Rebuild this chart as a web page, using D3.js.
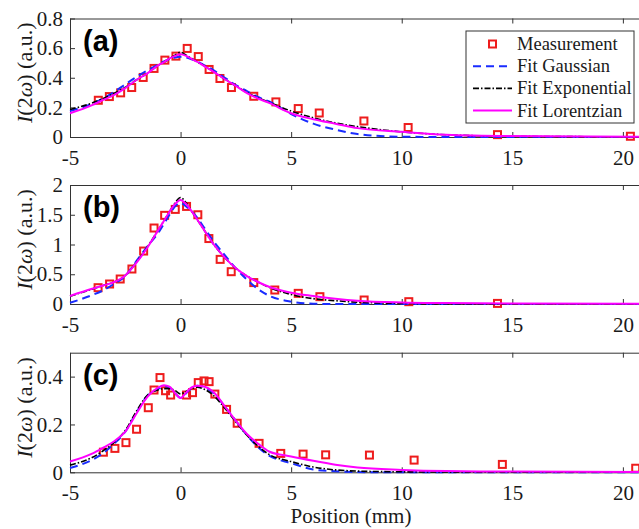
<!DOCTYPE html>
<html>
<head>
<meta charset="utf-8">
<script src="https://cdn.jsdelivr.net/npm/d3@7"></script>
<style>
  body { margin: 0; background: #fff; }
  svg { display: block; }
  .ax text { font-family: "Liberation Serif", "Times New Roman", serif; font-size: 21px; fill: #1a1a1a; }
  .ax path, .ax line { stroke: #333; stroke-width: 1; }
</style>
</head>
<body>
<svg id="main"></svg>
<script>
// x grid the fitted curves were read on
var fitX = [-5, -4, -3.5, -3, -2.5, -2, -1.5, -1, -0.75, -0.5, -0.25, 0, 0.25, 0.5, 0.75, 1, 1.5, 2, 2.5, 3, 3.5, 4, 5, 6, 7, 8, 10, 12, 15, 21];

// panel (a)
var measXA = [-3.72, -3.22, -2.71, -2.21, -1.69, -1.20, -0.71, -0.21, 0.30, 0.80, 1.29, 1.78, 2.30, 3.31, 4.31, 5.32, 6.27, 8.29, 10.29, 14.33, 20.34];
var measYA = [0.248, 0.273, 0.298, 0.334, 0.402, 0.463, 0.519, 0.546, 0.598, 0.543, 0.456, 0.395, 0.334, 0.275, 0.237, 0.192, 0.162, 0.108, 0.064, 0.016, 0.005];
var gaussA = [0.175, 0.225, 0.26, 0.305, 0.355, 0.405, 0.45, 0.49, 0.51, 0.525, 0.537, 0.541, 0.537, 0.525, 0.51, 0.49, 0.45, 0.40, 0.35, 0.31, 0.27, 0.24, 0.155, 0.09, 0.05, 0.02, 0.002, 0, 0, 0];
var expoA  = [0.185, 0.23, 0.26, 0.295, 0.335, 0.385, 0.43, 0.485, 0.505, 0.53, 0.553, 0.572, 0.553, 0.53, 0.508, 0.487, 0.44, 0.39, 0.345, 0.30, 0.265, 0.235, 0.175, 0.13, 0.095, 0.07, 0.035, 0.015, 0.005, 0.001];
var lorA   = [0.16, 0.215, 0.25, 0.285, 0.33, 0.385, 0.43, 0.485, 0.505, 0.53, 0.548, 0.558, 0.548, 0.528, 0.508, 0.485, 0.44, 0.39, 0.345, 0.297, 0.26, 0.23, 0.16, 0.12, 0.09, 0.06, 0.035, 0.015, 0.006, 0.002];

// panel (b)
var measXB = [-3.73, -3.21, -2.73, -2.20, -1.67, -1.20, -0.72, -0.24, 0.27, 0.78, 1.28, 1.79, 2.29, 3.31, 4.26, 5.32, 6.30, 8.30, 10.32, 14.33];
var measYB = [0.274, 0.336, 0.42, 0.588, 0.89, 1.277, 1.49, 1.59, 1.64, 1.50, 1.10, 0.75, 0.543, 0.36, 0.235, 0.179, 0.123, 0.067, 0.039, 0.01];
var gaussB = [0.02, 0.15, 0.23, 0.34, 0.47, 0.72, 0.97, 1.2, 1.35, 1.5, 1.64, 1.70, 1.64, 1.56, 1.45, 1.32, 1.05, 0.82, 0.6, 0.41, 0.25, 0.14, 0.04, 0.005, 0, 0, 0, 0, 0, 0];
var expoB  = [0.13, 0.25, 0.31, 0.37, 0.48, 0.70, 0.96, 1.25, 1.4, 1.55, 1.70, 1.79, 1.70, 1.56, 1.42, 1.28, 1.0, 0.78, 0.6, 0.47, 0.37, 0.28, 0.16, 0.09, 0.055, 0.03, 0.01, 0.004, 0.001, 0];
var lorB   = [0.135, 0.255, 0.31, 0.37, 0.48, 0.69, 0.95, 1.25, 1.4, 1.55, 1.68, 1.75, 1.68, 1.56, 1.42, 1.28, 1.0, 0.78, 0.6, 0.47, 0.37, 0.29, 0.19, 0.135, 0.09, 0.055, 0.025, 0.015, 0.008, 0.004];

// panel (c)
var measXC = [-3.49, -2.97, -2.47, -1.99, -1.46, -1.20, -0.93, -0.68, -0.45, 0.27, 0.54, 0.80, 1.06, 1.29, 1.55, 2.08, 2.56, 3.55, 4.53, 5.54, 6.56, 8.54, 10.56, 14.55, 20.58];
var measYC = [0.084, 0.100, 0.124, 0.180, 0.270, 0.344, 0.396, 0.341, 0.323, 0.323, 0.333, 0.375, 0.382, 0.379, 0.327, 0.263, 0.205, 0.121, 0.079, 0.076, 0.073, 0.072, 0.051, 0.033, 0.017];
var gaussC = [0.018, 0.052, 0.08, 0.12, 0.17, 0.25, 0.32, 0.35, 0.36, 0.355, 0.33, 0.311, 0.33, 0.352, 0.362, 0.358, 0.33, 0.275, 0.215, 0.155, 0.105, 0.07, 0.038, 0.012, 0.004, 0.001, 0, 0, 0, 0];
var expoC  = [0.03, 0.062, 0.09, 0.125, 0.175, 0.255, 0.322, 0.345, 0.35, 0.35, 0.342, 0.328, 0.338, 0.35, 0.356, 0.35, 0.32, 0.268, 0.21, 0.155, 0.11, 0.075, 0.045, 0.022, 0.01, 0.005, 0.002, 0.001, 0, 0];
var lorC   = [0.045, 0.078, 0.103, 0.13, 0.17, 0.245, 0.315, 0.355, 0.364, 0.358, 0.331, 0.311, 0.333, 0.355, 0.362, 0.36, 0.335, 0.276, 0.215, 0.16, 0.12, 0.087, 0.066, 0.048, 0.032, 0.02, 0.01, 0.005, 0.003, 0.001];

var xTicks = [-5, 0, 5, 10, 15, 20];
var yTicksA = [0, 0.2, 0.4, 0.6, 0.8];
var yTicksB = [0, 0.5, 1, 1.5, 2];
var yTicksC = [0, 0.2, 0.4];
var legendNames = ["Measurement", "Fit Gaussian", "Fit Exponential", "Fit Lorentzian"];

var chart = { width: 639, height: 529, left: 70, right: 645 };

var panels = [
  { tag: "(a)", top: 18.5, bottom: 137, ymax: 0.8, yTicks: yTicksA, mx: measXA, my: measYA, g: gaussA, e: expoA, l: lorA },
  { tag: "(b)", top: 185, bottom: 304, ymax: 2, yTicks: yTicksB, mx: measXB, my: measYB, g: gaussB, e: expoB, l: lorB },
  { tag: "(c)", top: 352.7, bottom: 472.3, ymax: 0.5, yTicks: yTicksC, mx: measXC, my: measYC, g: gaussC, e: expoC, l: lorC }
];

var styles = {
  g: { color: "#1a2cff", width: 2, dash: "8,5" },
  e: { color: "#000", width: 1.6, dash: "6,2,1.5,2" },
  l: { color: "#ff00ff", width: 2, dash: null }
};
var markColor = "#ee1c1c";
var plainNum = function(d) { return String(d); };   // hyphen minus, as in the figure

var svg = d3.select("#main")
  .attr("width", chart.width)
  .attr("height", chart.height);

var x = d3.scaleLinear().domain([-5, 21]).range([chart.left, chart.right]);

panels.forEach(function(p) {
  var y = d3.scaleLinear().domain([0, p.ymax]).range([p.bottom, p.top]);

  // box axes, ticks pointing in
  svg.append("g").attr("class", "ax")
    .attr("transform", "translate(0," + p.bottom + ")")
    .call(d3.axisBottom(x).tickValues(xTicks).tickSizeInner(-5).tickSizeOuter(0).tickPadding(13).tickFormat(plainNum));
  svg.append("g").attr("class", "ax")
    .attr("transform", "translate(0," + p.top + ")")
    .call(d3.axisTop(x).tickValues(xTicks).tickSizeInner(-5).tickSizeOuter(0).tickFormat(""));
  svg.append("g").attr("class", "ax")
    .attr("transform", "translate(" + chart.left + ",0)")
    .call(d3.axisLeft(y).tickValues(p.yTicks).tickSizeInner(-5).tickSizeOuter(0).tickPadding(7).tickFormat(plainNum));
  svg.append("g").attr("class", "ax")
    .attr("transform", "translate(" + chart.right + ",0)")
    .call(d3.axisRight(y).tickValues(p.yTicks).tickSizeInner(-5).tickSizeOuter(0).tickFormat(""));

  // measurements
  svg.append("g").selectAll("rect")
    .data(p.mx.map(function(v, i) { return [v, p.my[i]]; }))
    .join("rect")
    .attr("x", function(d) { return x(d[0]) - 3.5; })
    .attr("y", function(d) { return y(d[1]) - 3.5; })
    .attr("width", 7).attr("height", 7)
    .attr("fill", "none")
    .attr("stroke", markColor)
    .attr("stroke-width", 2);

  // fits
  var line = d3.line()
    .x(function(d) { return x(d[0]); })
    .y(function(d) { return y(d[1]); })
    .curve(d3.curveMonotoneX);
  ["g", "e", "l"].forEach(function(k) {
    var s = styles[k];
    svg.append("path")
      .datum(fitX.map(function(v, i) { return [v, p[k][i]]; }))
      .attr("d", line)
      .attr("fill", "none")
      .attr("stroke", s.color)
      .attr("stroke-width", s.width)
      .attr("stroke-dasharray", s.dash);
  });

  // panel tag
  svg.append("text")
    .attr("x", 83).attr("y", p.top + 32)
    .attr("font-family", "Liberation Sans, Arial, sans-serif")
    .attr("font-weight", "bold")
    .attr("font-size", 29)
    .text(p.tag);

  // y title
  var yt = svg.append("text")
    .attr("transform", "translate(32," + ((p.top + p.bottom) / 2 - 5) + ") rotate(-90)")
    .attr("text-anchor", "middle")
    .attr("font-family", "Liberation Serif, Times New Roman, serif")
    .attr("font-size", 22)
    .attr("fill", "#1a1a1a");
  yt.append("tspan").attr("font-style", "italic").text("I");
  yt.append("tspan").text("(2");
  yt.append("tspan").attr("font-style", "italic").text("ω");
  yt.append("tspan").text(") (a.u.)");
});

// x title
svg.append("text")
  .attr("x", 351).attr("y", 523)
  .attr("text-anchor", "middle")
  .attr("font-family", "Liberation Serif, Times New Roman, serif")
  .attr("font-size", 21)
  .attr("fill", "#1a1a1a")
  .text("Position (mm)");

// legend
var lg = svg.append("g").attr("transform", "translate(466,31)");
lg.append("rect")
  .attr("width", 168).attr("height", 92)
  .attr("fill", "#fff").attr("stroke", "#333").attr("stroke-width", 1);
var keys = [null, "g", "e", "l"];
legendNames.forEach(function(name, i) {
  var cy = 13 + i * 22.2;
  if (keys[i] === null) {
    lg.append("rect")
      .attr("x", 26.5 - 3.5).attr("y", cy - 3.5)
      .attr("width", 7).attr("height", 7)
      .attr("fill", "none").attr("stroke", markColor).attr("stroke-width", 2);
  } else {
    var s = styles[keys[i]];
    lg.append("line")
      .attr("x1", 7).attr("x2", 46).attr("y1", cy).attr("y2", cy)
      .attr("stroke", s.color).attr("stroke-width", s.width)
      .attr("stroke-dasharray", s.dash);
  }
  lg.append("text")
    .attr("x", 51).attr("y", cy + 6)
    .attr("font-family", "Liberation Serif, Times New Roman, serif")
    .attr("font-size", 18.5)
    .attr("fill", "#1a1a1a")
    .text(name);
});
</script>
</body>
</html>
